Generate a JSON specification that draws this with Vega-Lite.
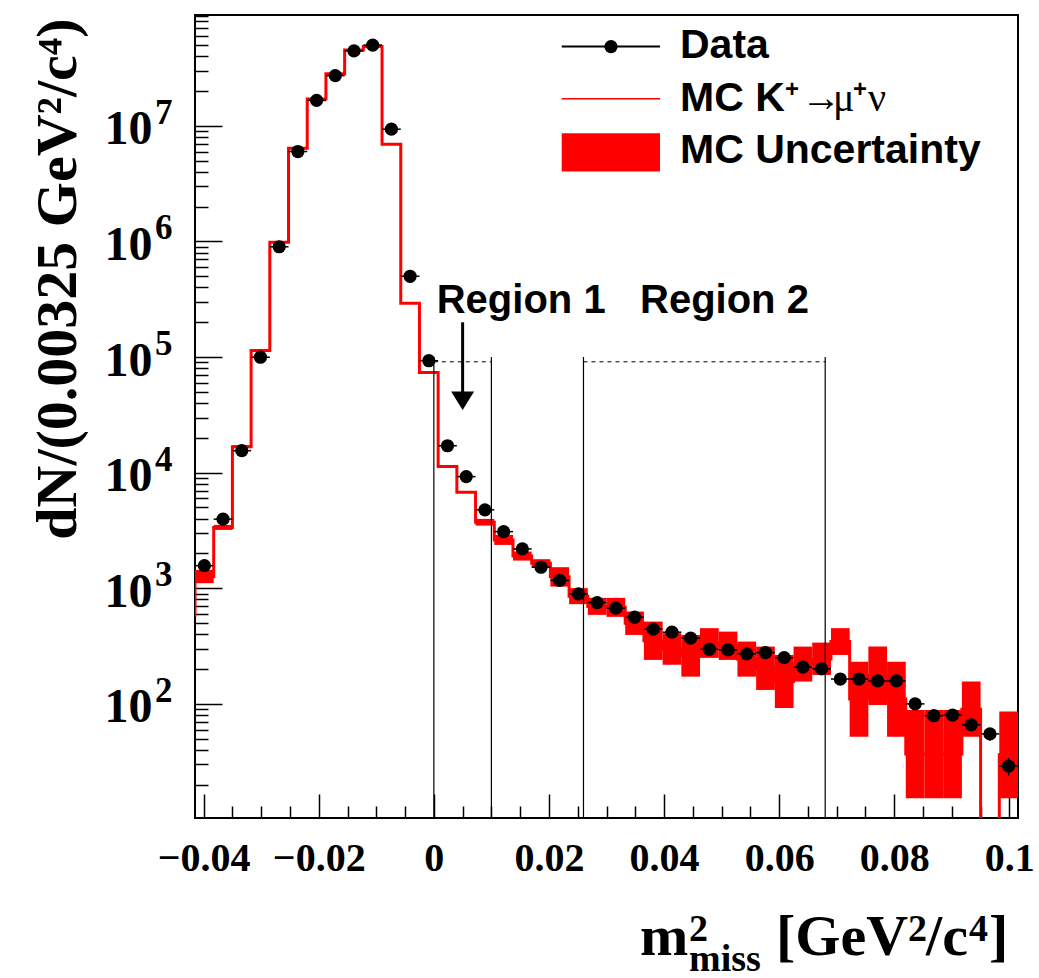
{
  "$schema": "https://vega.github.io/schema/vega-lite/v6.json",
  "width": 823,
  "height": 803,
  "autosize": {"type": "none"},
  "padding": {"left": 195, "top": 15, "right": 21, "bottom": 160},
  "background": "white",
  "config": {
    "view": {"stroke": "black", "strokeWidth": 2},
    "axis": {"grid": false, "domain": false, "tickColor": "black", "labelColor": "black", "titleColor": "black", "zindex": 2}
  },
  "datasets": {
    "mc": [
      {"xlo": -0.0415, "xhi": -0.03825, "mc": 1260, "lo": 1107, "hi": 1443},
      {"xlo": -0.03825, "xhi": -0.035, "mc": 3360, "lo": 3199, "hi": 3532},
      {"xlo": -0.035, "xhi": -0.03175, "mc": 16800, "lo": 16300, "hi": 17300},
      {"xlo": -0.03175, "xhi": -0.0285, "mc": 114000, "lo": 112000, "hi": 116000},
      {"xlo": -0.0285, "xhi": -0.02525, "mc": 986000, "lo": 976000, "hi": 996000},
      {"xlo": -0.02525, "xhi": -0.022, "mc": 6400000, "lo": 6340000, "hi": 6460000},
      {"xlo": -0.022, "xhi": -0.01875, "mc": 17100000, "lo": 16900000, "hi": 17300000},
      {"xlo": -0.01875, "xhi": -0.0155, "mc": 28200000, "lo": 27900000, "hi": 28500000},
      {"xlo": -0.0155, "xhi": -0.01225, "mc": 45400000, "lo": 45000000, "hi": 45800000},
      {"xlo": -0.01225, "xhi": -0.009, "mc": 48500000, "lo": 48000000, "hi": 49000000},
      {"xlo": -0.009, "xhi": -0.00575, "mc": 6950000, "lo": 6880000, "hi": 7020000},
      {"xlo": -0.00575, "xhi": -0.0025, "mc": 292000, "lo": 289000, "hi": 295000},
      {"xlo": -0.0025, "xhi": 0.00075, "mc": 73500, "lo": 72700, "hi": 74300},
      {"xlo": 0.00075, "xhi": 0.004, "mc": 11300, "lo": 11150, "hi": 11450},
      {"xlo": 0.004, "xhi": 0.00725, "mc": 6780, "lo": 6680, "hi": 6880},
      {"xlo": 0.00725, "xhi": 0.0105, "mc": 3720, "lo": 3484, "hi": 3981},
      {"xlo": 0.0105, "xhi": 0.01375, "mc": 2620, "lo": 2372, "hi": 2897},
      {"xlo": 0.01375, "xhi": 0.017, "mc": 1900, "lo": 1736, "hi": 2077},
      {"xlo": 0.017, "xhi": 0.02025, "mc": 1650, "lo": 1522, "hi": 1785},
      {"xlo": 0.02025, "xhi": 0.0235, "mc": 1260, "lo": 1034, "hi": 1522},
      {"xlo": 0.0235, "xhi": 0.02675, "mc": 855, "lo": 729, "hi": 1002},
      {"xlo": 0.02675, "xhi": 0.03, "mc": 697, "lo": 589, "hi": 826},
      {"xlo": 0.03, "xhi": 0.03325, "mc": 685, "lo": 566, "hi": 826},
      {"xlo": 0.03325, "xhi": 0.0365, "mc": 499, "lo": 395, "hi": 629},
      {"xlo": 0.0365, "xhi": 0.03975, "mc": 352, "lo": 240, "hi": 515},
      {"xlo": 0.03975, "xhi": 0.043, "mc": 299, "lo": 218, "hi": 409},
      {"xlo": 0.043, "xhi": 0.04625, "mc": 261, "lo": 172, "hi": 395},
      {"xlo": 0.04625, "xhi": 0.0495, "mc": 336, "lo": 250, "hi": 452},
      {"xlo": 0.0495, "xhi": 0.05275, "mc": 318, "lo": 240, "hi": 422},
      {"xlo": 0.05275, "xhi": 0.056, "mc": 244, "lo": 172, "hi": 346},
      {"xlo": 0.056, "xhi": 0.05925, "mc": 204, "lo": 132, "hi": 313},
      {"xlo": 0.05925, "xhi": 0.0625, "mc": 156, "lo": 92, "hi": 265},
      {"xlo": 0.0625, "xhi": 0.06575, "mc": 221, "lo": 156, "hi": 313},
      {"xlo": 0.06575, "xhi": 0.069, "mc": 245, "lo": 178, "hi": 339},
      {"xlo": 0.069, "xhi": 0.07225, "mc": 346, "lo": 265, "hi": 452},
      {"xlo": 0.07225, "xhi": 0.0755, "mc": 110, "lo": 52, "hi": 231},
      {"xlo": 0.0755, "xhi": 0.07875, "mc": 176, "lo": 98, "hi": 313},
      {"xlo": 0.07875, "xhi": 0.082, "mc": 110, "lo": 52, "hi": 232},
      {"xlo": 0.082, "xhi": 0.08525, "mc": 36.8, "lo": 15.3, "hi": 88.7},
      {"xlo": 0.08525, "xhi": 0.0885, "mc": 36.8, "lo": 15.3, "hi": 88.7},
      {"xlo": 0.0885, "xhi": 0.09175, "mc": 36.8, "lo": 15.3, "hi": 88.7},
      {"xlo": 0.09175, "xhi": 0.095, "mc": 90, "lo": 52, "hi": 156},
      {"xlo": 0.095, "xhi": 0.09825, "mc": 0, "lo": 0, "hi": 0},
      {"xlo": 0.09825, "xhi": 0.1015, "mc": 36.3, "lo": 15.3, "hi": 85.8}
    ],
    "mcstep": [
      {"i": 0, "x": -0.0415, "y": 570},
      {"i": 1, "x": -0.0415, "y": 1260},
      {"i": 2, "x": -0.03825, "y": 3360},
      {"i": 3, "x": -0.035, "y": 16800},
      {"i": 4, "x": -0.03175, "y": 114000},
      {"i": 5, "x": -0.0285, "y": 986000},
      {"i": 6, "x": -0.02525, "y": 6400000},
      {"i": 7, "x": -0.022, "y": 17100000},
      {"i": 8, "x": -0.01875, "y": 28200000},
      {"i": 9, "x": -0.0155, "y": 45400000},
      {"i": 10, "x": -0.01225, "y": 48500000},
      {"i": 11, "x": -0.009, "y": 6950000},
      {"i": 12, "x": -0.00575, "y": 292000},
      {"i": 13, "x": -0.0025, "y": 73500},
      {"i": 14, "x": 0.00075, "y": 11300},
      {"i": 15, "x": 0.004, "y": 6780},
      {"i": 16, "x": 0.00725, "y": 3720},
      {"i": 17, "x": 0.0105, "y": 2620},
      {"i": 18, "x": 0.01375, "y": 1900},
      {"i": 19, "x": 0.017, "y": 1650},
      {"i": 20, "x": 0.02025, "y": 1260},
      {"i": 21, "x": 0.0235, "y": 855},
      {"i": 22, "x": 0.02675, "y": 697},
      {"i": 23, "x": 0.03, "y": 685},
      {"i": 24, "x": 0.03325, "y": 499},
      {"i": 25, "x": 0.0365, "y": 352},
      {"i": 26, "x": 0.03975, "y": 299},
      {"i": 27, "x": 0.043, "y": 261},
      {"i": 28, "x": 0.04625, "y": 336},
      {"i": 29, "x": 0.0495, "y": 318},
      {"i": 30, "x": 0.05275, "y": 244},
      {"i": 31, "x": 0.056, "y": 204},
      {"i": 32, "x": 0.05925, "y": 156},
      {"i": 33, "x": 0.0625, "y": 221},
      {"i": 34, "x": 0.06575, "y": 245},
      {"i": 35, "x": 0.069, "y": 346},
      {"i": 36, "x": 0.07225, "y": 110},
      {"i": 37, "x": 0.0755, "y": 176},
      {"i": 38, "x": 0.07875, "y": 110},
      {"i": 39, "x": 0.082, "y": 36.8},
      {"i": 40, "x": 0.08525, "y": 36.8},
      {"i": 41, "x": 0.0885, "y": 36.8},
      {"i": 42, "x": 0.09175, "y": 90},
      {"i": 43, "x": 0.095, "y": 1},
      {"i": 44, "x": 0.09825, "y": 36.3},
      {"i": 45, "x": 0.1015, "y": 36.3}
    ],
    "data": [
      {"x": -0.039875, "xlo": -0.0415, "xhi": -0.03825, "n": 1570, "nlo": 1530, "nhi": 1610},
      {"x": -0.036625, "xlo": -0.03825, "xhi": -0.035, "n": 3960, "nlo": 3897, "nhi": 4023},
      {"x": -0.033375, "xlo": -0.035, "xhi": -0.03175, "n": 15500, "nlo": 15376, "nhi": 15625},
      {"x": -0.030125, "xlo": -0.03175, "xhi": -0.0285, "n": 99700, "nlo": 99384, "nhi": 100016},
      {"x": -0.026875, "xlo": -0.0285, "xhi": -0.02525, "n": 900000, "nlo": 899051, "nhi": 900949},
      {"x": -0.023625, "xlo": -0.02525, "xhi": -0.022, "n": 6000000, "nlo": 5997551, "nhi": 6002449},
      {"x": -0.020375, "xlo": -0.022, "xhi": -0.01875, "n": 16600000, "nlo": 16595926, "nhi": 16604074},
      {"x": -0.017125, "xlo": -0.01875, "xhi": -0.0155, "n": 27200000, "nlo": 27194785, "nhi": 27205215},
      {"x": -0.013875, "xlo": -0.0155, "xhi": -0.01225, "n": 44500000, "nlo": 44493329, "nhi": 44506671},
      {"x": -0.010625, "xlo": -0.01225, "xhi": -0.009, "n": 50000000, "nlo": 49992929, "nhi": 50007071},
      {"x": -0.007375, "xlo": -0.009, "xhi": -0.00575, "n": 9360000, "nlo": 9356941, "nhi": 9363059},
      {"x": -0.004125, "xlo": -0.00575, "xhi": -0.0025, "n": 500000, "nlo": 499293, "nhi": 500707},
      {"x": -0.000875, "xlo": -0.0025, "xhi": 0.00075, "n": 93000, "nlo": 92695, "nhi": 93305},
      {"x": 0.002375, "xlo": 0.00075, "xhi": 0.004, "n": 17100, "nlo": 16969, "nhi": 17231},
      {"x": 0.005625, "xlo": 0.004, "xhi": 0.00725, "n": 9250, "nlo": 9154, "nhi": 9346},
      {"x": 0.008875, "xlo": 0.00725, "xhi": 0.0105, "n": 4770, "nlo": 4701, "nhi": 4839},
      {"x": 0.012125, "xlo": 0.0105, "xhi": 0.01375, "n": 3090, "nlo": 3034, "nhi": 3146},
      {"x": 0.015375, "xlo": 0.01375, "xhi": 0.017, "n": 2190, "nlo": 2143, "nhi": 2237},
      {"x": 0.018625, "xlo": 0.017, "xhi": 0.02025, "n": 1520, "nlo": 1481, "nhi": 1559},
      {"x": 0.021875, "xlo": 0.02025, "xhi": 0.0235, "n": 1170, "nlo": 1136, "nhi": 1204},
      {"x": 0.025125, "xlo": 0.0235, "xhi": 0.02675, "n": 895, "nlo": 865, "nhi": 925},
      {"x": 0.028375, "xlo": 0.02675, "xhi": 0.03, "n": 752, "nlo": 725, "nhi": 779},
      {"x": 0.031625, "xlo": 0.03, "xhi": 0.03325, "n": 673, "nlo": 647, "nhi": 699},
      {"x": 0.034875, "xlo": 0.03325, "xhi": 0.0365, "n": 562, "nlo": 538, "nhi": 586},
      {"x": 0.038125, "xlo": 0.0365, "xhi": 0.03975, "n": 443, "nlo": 422, "nhi": 464},
      {"x": 0.041375, "xlo": 0.03975, "xhi": 0.043, "n": 417, "nlo": 397, "nhi": 437},
      {"x": 0.044625, "xlo": 0.043, "xhi": 0.04625, "n": 370, "nlo": 351, "nhi": 389},
      {"x": 0.047875, "xlo": 0.04625, "xhi": 0.0495, "n": 297, "nlo": 280, "nhi": 314},
      {"x": 0.051125, "xlo": 0.0495, "xhi": 0.05275, "n": 293, "nlo": 276, "nhi": 310},
      {"x": 0.054375, "xlo": 0.05275, "xhi": 0.056, "n": 271, "nlo": 255, "nhi": 287},
      {"x": 0.057625, "xlo": 0.056, "xhi": 0.05925, "n": 278, "nlo": 261, "nhi": 295},
      {"x": 0.060875, "xlo": 0.05925, "xhi": 0.0625, "n": 251, "nlo": 235, "nhi": 267},
      {"x": 0.064125, "xlo": 0.0625, "xhi": 0.06575, "n": 208, "nlo": 194, "nhi": 222},
      {"x": 0.067375, "xlo": 0.06575, "xhi": 0.069, "n": 201, "nlo": 187, "nhi": 215},
      {"x": 0.070625, "xlo": 0.069, "xhi": 0.07225, "n": 164, "nlo": 151, "nhi": 177},
      {"x": 0.073875, "xlo": 0.07225, "xhi": 0.0755, "n": 164, "nlo": 151, "nhi": 177},
      {"x": 0.077125, "xlo": 0.0755, "xhi": 0.07875, "n": 158, "nlo": 145, "nhi": 171},
      {"x": 0.080375, "xlo": 0.07875, "xhi": 0.082, "n": 158, "nlo": 145, "nhi": 171},
      {"x": 0.083625, "xlo": 0.082, "xhi": 0.08525, "n": 100, "nlo": 90, "nhi": 110},
      {"x": 0.086875, "xlo": 0.08525, "xhi": 0.0885, "n": 79, "nlo": 70, "nhi": 88},
      {"x": 0.090125, "xlo": 0.0885, "xhi": 0.09175, "n": 80, "nlo": 71, "nhi": 89},
      {"x": 0.093375, "xlo": 0.09175, "xhi": 0.095, "n": 66, "nlo": 58, "nhi": 74},
      {"x": 0.096625, "xlo": 0.095, "xhi": 0.09825, "n": 55, "nlo": 48, "nhi": 62},
      {"x": 0.099875, "xlo": 0.09825, "xhi": 0.1015, "n": 29, "nlo": 24, "nhi": 34}
    ]
  },
  "layer": [
    {
      "data": {"name": "mc"},
      "transform": [{"filter": "datum.hi > 0"}],
      "mark": {"type": "rect", "color": "#ff0000", "clip": true},
      "encoding": {
        "x": {"field": "xlo", "type": "quantitative",
              "scale": {"domain": [-0.0415, 0.1015], "nice": false, "zero": false},
              "axis": {"orient": "bottom", "values": [-0.035, -0.03, -0.025, -0.015, -0.01, -0.005, 0.005, 0.01, 0.015, 0.025, 0.03, 0.035, 0.045, 0.05, 0.055, 0.065, 0.07, 0.075, 0.085, 0.09, 0.095],
                       "tickSize": -12, "tickWidth": 1.5, "labels": false, "title": null}},
        "x2": {"field": "xhi"},
        "y": {"field": "lo", "type": "quantitative",
              "scale": {"type": "log", "domain": [10.3, 91000000], "nice": false},
              "axis": {"orient": "left", "values": [20, 30, 40, 50, 60, 70, 80, 90, 200, 300, 400, 500, 600, 700, 800, 900, 2000, 3000, 4000, 5000, 6000, 7000, 8000, 9000, 20000, 30000, 40000, 50000, 60000, 70000, 80000, 90000, 200000, 300000, 400000, 500000, 600000, 700000, 800000, 900000, 2000000, 3000000, 4000000, 5000000, 6000000, 7000000, 8000000, 9000000, 20000000, 30000000, 40000000, 50000000, 60000000, 70000000, 80000000, 90000000],
                       "tickSize": -13, "tickWidth": 1.5, "labels": false, "title": null}},
        "y2": {"field": "hi"}
      }
    },
    {
      "data": {"name": "mcstep"},
      "mark": {"type": "line", "interpolate": "step-after", "color": "#ff0000", "strokeWidth": 3, "clip": true},
      "encoding": {
        "x": {"field": "x", "type": "quantitative", "axis": null},
        "y": {"field": "y", "type": "quantitative", "scale": {"type": "log"}, "axis": null},
        "order": {"field": "i", "type": "quantitative"}
      }
    },
    {
      "data": {"values": [{"x": 0}, {"x": 0.01}, {"x": 0.026}, {"x": 0.068}]},
      "mark": {"type": "rule", "color": "black", "strokeWidth": 1.2},
      "encoding": {
        "x": {"field": "x", "type": "quantitative", "axis": null},
        "y": {"datum": 10.3, "type": "quantitative", "scale": {"type": "log"}, "axis": null},
        "y2": {"datum": 100000}
      }
    },
    {
      "data": {"values": [{"a": 0, "b": 0.01}, {"a": 0.026, "b": 0.068}]},
      "mark": {"type": "rule", "color": "black", "strokeWidth": 1, "strokeDash": [4, 4]},
      "encoding": {
        "x": {"field": "a", "type": "quantitative", "axis": null},
        "x2": {"field": "b"},
        "y": {"datum": 91000, "type": "quantitative", "scale": {"type": "log"}, "axis": null}
      }
    },
    {
      "data": {"values": [{"x": 0.005, "top": 200000, "bottom": 47000}]},
      "mark": {"type": "rule", "color": "black", "strokeWidth": 3},
      "encoding": {
        "x": {"field": "x", "type": "quantitative", "axis": null},
        "y": {"field": "top", "type": "quantitative", "scale": {"type": "log"}, "axis": null},
        "y2": {"field": "bottom"}
      }
    },
    {
      "data": {"values": [{"x": 0.005, "y": 41900}]},
      "mark": {"type": "point", "shape": "M-1,-0.8L1,-0.8L0,0.8Z", "filled": true, "color": "black", "opacity": 1, "size": 529},
      "encoding": {
        "x": {"field": "x", "type": "quantitative", "axis": null},
        "y": {"field": "y", "type": "quantitative", "scale": {"type": "log"}, "axis": null}
      }
    },
    {
      "data": {"name": "data"},
      "mark": {"type": "rule", "color": "black", "strokeWidth": 1.5},
      "encoding": {
        "x": {"field": "xlo", "type": "quantitative", "axis": null},
        "x2": {"field": "xhi"},
        "y": {"field": "n", "type": "quantitative", "scale": {"type": "log"}, "axis": null}
      }
    },
    {
      "data": {"name": "data"},
      "mark": {"type": "rule", "color": "black", "strokeWidth": 1.5},
      "encoding": {
        "x": {"field": "x", "type": "quantitative", "axis": null},
        "y": {"field": "nlo", "type": "quantitative", "scale": {"type": "log"}, "axis": null},
        "y2": {"field": "nhi"}
      }
    },
    {
      "data": {"name": "data"},
      "mark": {"type": "point", "shape": "circle", "filled": true, "color": "black", "opacity": 1, "size": 175},
      "encoding": {
        "x": {"field": "x", "type": "quantitative",
              "axis": {"orient": "bottom", "values": [-0.04, -0.02, 0, 0.02, 0.04, 0.06, 0.08, 0.1],
                       "tickSize": -24, "tickWidth": 1.5, "labelExpr": "format(datum.value, '.2~f')",
                       "labelFont": "Liberation Serif", "labelFontWeight": "bold", "labelFontSize": 40,
                       "labelPadding": 44, "labelFlush": false, "labelOverlap": false, "labelBound": false, "title": null}},
        "y": {"field": "n", "type": "quantitative", "scale": {"type": "log"},
              "axis": {"orient": "left", "values": [100, 1000, 10000, 100000, 1000000, 10000000],
                       "tickSize": -27, "tickWidth": 1.5, "labelExpr": "'10'",
                       "labelFont": "Liberation Serif", "labelFontWeight": "bold", "labelFontSize": 48,
                       "labelPadding": 70, "labelAlign": "right", "labelBaseline": "alphabetic", "labelOffset": 18,
                       "labelOverlap": false, "labelBound": false, "labelFlush": false,
                       "title": "dN/(0.00325 GeV²/c⁴)", "titleFont": "Liberation Serif", "titleFontWeight": "bold",
                       "titleFontSize": 58, "titleX": -120, "titleY": 3, "titleAlign": "right", "titleAngle": 270,
                       "titleBaseline": "alphabetic"}}
      }
    },
    {
      "data": {"values": [{"v": 100, "e": "2"}, {"v": 1000, "e": "3"}, {"v": 10000, "e": "4"}, {"v": 100000, "e": "5"}, {"v": 1000000, "e": "6"}, {"v": 10000000, "e": "7"}]},
      "mark": {"type": "text", "font": "Liberation Serif", "fontWeight": "bold", "fontSize": 35, "align": "left", "baseline": "alphabetic", "dx": -40, "dy": -2, "color": "black"},
      "encoding": {
        "x": {"datum": -0.0415, "type": "quantitative", "axis": null},
        "y": {"field": "v", "type": "quantitative", "scale": {"type": "log"}, "axis": null},
        "text": {"field": "e"}
      }
    },
    {
      "data": {"values": [{"a": 0.02222, "b": 0.0393, "y": 48500000}]},
      "mark": {"type": "rule", "color": "black", "strokeWidth": 2},
      "encoding": {
        "x": {"field": "a", "type": "quantitative", "axis": null},
        "x2": {"field": "b"},
        "y": {"field": "y", "type": "quantitative", "scale": {"type": "log"}, "axis": null}
      }
    },
    {
      "data": {"values": [{"x": 0.03078, "y": 48500000}]},
      "mark": {"type": "point", "shape": "circle", "filled": true, "color": "black", "opacity": 1, "size": 175},
      "encoding": {
        "x": {"field": "x", "type": "quantitative", "axis": null},
        "y": {"field": "y", "type": "quantitative", "scale": {"type": "log"}, "axis": null}
      }
    },
    {
      "data": {"values": [{"a": 0.02222, "b": 0.0393, "y": 17120000}]},
      "mark": {"type": "rule", "color": "#ff0000", "strokeWidth": 1.5},
      "encoding": {
        "x": {"field": "a", "type": "quantitative", "axis": null},
        "x2": {"field": "b"},
        "y": {"field": "y", "type": "quantitative", "scale": {"type": "log"}, "axis": null}
      }
    },
    {
      "data": {"values": [{"a": 0.02222, "b": 0.0393, "lo": 4020000, "hi": 8650000}]},
      "mark": {"type": "rect", "color": "#ff0000"},
      "encoding": {
        "x": {"field": "a", "type": "quantitative", "axis": null},
        "x2": {"field": "b"},
        "y": {"field": "lo", "type": "quantitative", "scale": {"type": "log"}, "axis": null},
        "y2": {"field": "hi"}
      }
    },
    {
      "data": {"values": [
        {"x": 0.04277, "y": 38700000, "t": "Data"},
        {"x": 0.04277, "y": 13490000, "t": "MC K"},
        {"x": 0.04277, "y": 4790000, "t": "MC Uncertainty"}
      ]},
      "mark": {"type": "text", "font": "Liberation Sans", "fontWeight": "bold", "fontSize": 41, "align": "left", "baseline": "alphabetic", "color": "black"},
      "encoding": {
        "x": {"field": "x", "type": "quantitative", "axis": null},
        "y": {"field": "y", "type": "quantitative", "scale": {"type": "log"}, "axis": null},
        "text": {"field": "t"}
      }
    },
    {
      "data": {"values": [
        {"x": 0.0005, "y": 241000, "t": "Region 1"},
        {"x": 0.03582, "y": 241000, "t": "Region 2"}
      ]},
      "mark": {"type": "text", "font": "Liberation Sans", "fontWeight": "bold", "fontSize": 40, "align": "left", "baseline": "alphabetic", "color": "black"},
      "encoding": {
        "x": {"field": "x", "type": "quantitative", "axis": null},
        "y": {"field": "y", "type": "quantitative", "scale": {"type": "log"}, "axis": null},
        "text": {"field": "t"}
      }
    },
    {
      "data": {"values": [{"x": 0.06102, "y": 17820000, "t": "+"}, {"x": 0.07284, "y": 17820000, "t": "+"}]},
      "mark": {"type": "text", "font": "Liberation Sans", "fontWeight": "bold", "fontSize": 24, "align": "left", "baseline": "alphabetic", "color": "black"},
      "encoding": {
        "x": {"field": "x", "type": "quantitative", "axis": null},
        "y": {"field": "y", "type": "quantitative", "scale": {"type": "log"}, "axis": null},
        "text": {"field": "t"}
      }
    },
    {
      "data": {"values": [{"x": 0.0638, "y": 13490000, "t": "→"}, {"x": 0.06936, "y": 13490000, "t": "μ"}, {"x": 0.07544, "y": 13490000, "t": "ν"}]},
      "mark": {"type": "text", "font": "Liberation Serif", "fontSize": 40, "align": "left", "baseline": "alphabetic", "color": "black"},
      "encoding": {
        "x": {"field": "x", "type": "quantitative", "axis": null},
        "y": {"field": "y", "type": "quantitative", "scale": {"type": "log"}, "axis": null},
        "text": {"field": "t"}
      }
    },
    {
      "data": {"values": [{"x": 0.03582, "y": 0.674, "t": "m"}, {"x": 0.05945, "y": 0.674, "t": "[GeV"}, {"x": 0.08552, "y": 0.674, "t": "/c"}, {"x": 0.09647, "y": 0.674, "t": "]"}]},
      "mark": {"type": "text", "font": "Liberation Serif", "fontWeight": "bold", "fontSize": 58, "align": "left", "baseline": "alphabetic", "color": "black"},
      "encoding": {
        "x": {"field": "x", "type": "quantitative", "axis": null},
        "y": {"field": "y", "type": "quantitative", "scale": {"type": "log"}, "axis": null},
        "text": {"field": "t"}
      }
    },
    {
      "data": {"values": [{"x": 0.04434, "y": 0.891, "t": "2"}, {"x": 0.08239, "y": 0.891, "t": "2"}, {"x": 0.09299, "y": 0.891, "t": "4"}, {"x": 0.04434, "y": 0.49, "t": "miss"}]},
      "mark": {"type": "text", "font": "Liberation Serif", "fontWeight": "bold", "fontSize": 38, "align": "left", "baseline": "alphabetic", "color": "black"},
      "encoding": {
        "x": {"field": "x", "type": "quantitative", "axis": null},
        "y": {"field": "y", "type": "quantitative", "scale": {"type": "log"}, "axis": null},
        "text": {"field": "t"}
      }
    }
  ],
  "resolve": {"axis": {"x": "independent", "y": "independent"}}
}
